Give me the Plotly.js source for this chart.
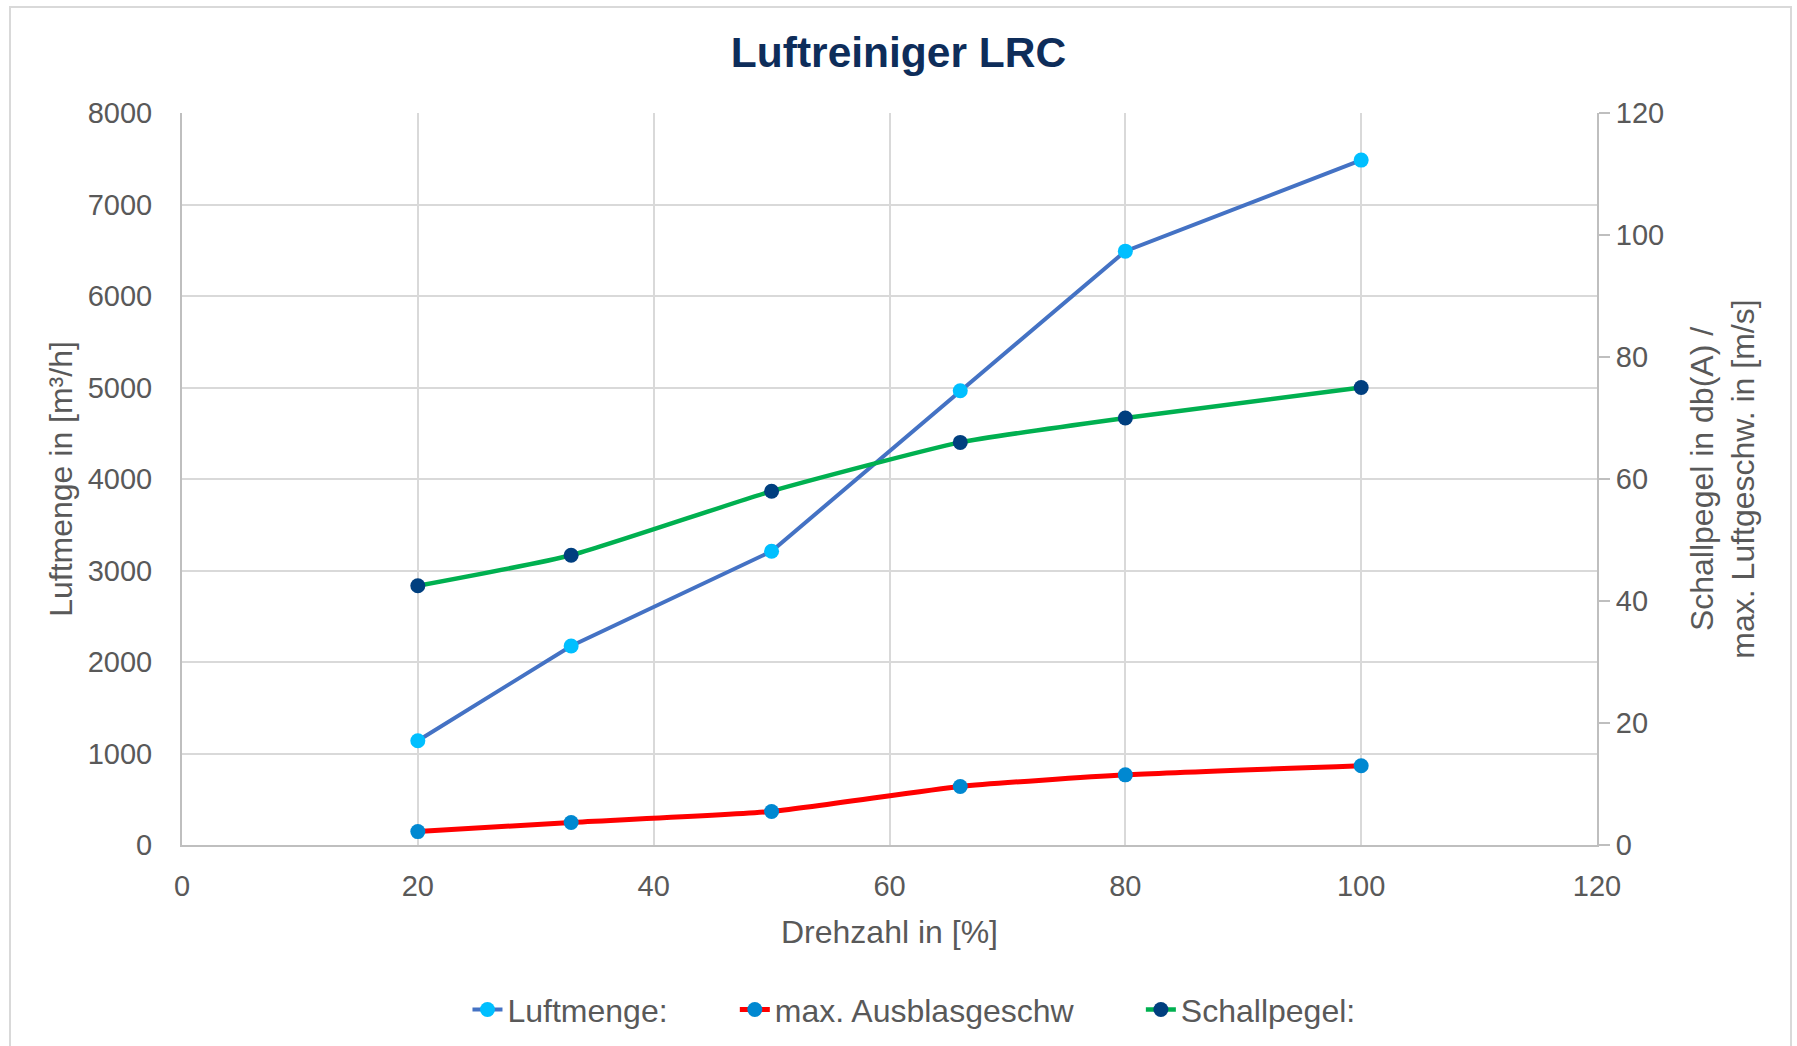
<!DOCTYPE html>
<html>
<head>
<meta charset="utf-8">
<script src="https://cdn.plot.ly/plotly-3.0.1.min.js"></script>
<style>
  html, body { margin: 0; padding: 0; background: #ffffff; }
  #wrap { position: relative; width: 1797px; height: 1046px; }
  #chart { width: 1797px; height: 1046px; }
  #frame { position: absolute; left: 9px; top: 6px; width: 1783px; height: 1050px; border: 2px solid #d9d9d9; pointer-events: none; box-sizing: border-box; }
</style>
</head>
<body>
<div id="wrap">
  <div id="chart"></div>
  <div id="frame"></div>
</div>
<script>
// Data
const drehzahl = [20, 33, 50, 66, 80, 100];
const luftmenge = [1140, 2175, 3210, 4965, 6490, 7485];
const ausblasgeschw = [2.2, 3.7, 5.5, 9.6, 11.5, 13.0];
const schallpegel = [42.5, 47.5, 58.0, 66.0, 70.0, 75.0];

const seriesNames = ["Luftmenge:", "max. Ausblasgeschw", "Schallpegel:"];
const chartTitle = "Luftreiniger LRC";
const xTitle = "Drehzahl in [%]";
const yTitle = "Luftmenge in [m³/h]";
const y2Title = "Schallpegel in db(A) /<br>max. Luftgeschw. in [m/s]";

const FONT = "Liberation Sans, Arial, sans-serif";
const GREY = "#595959";
const PAD = "\u00a0\u00a0\u00a0\u00a0\u00a0\u00a0\u00a0";

const traces = [
  {
    x: drehzahl, y: luftmenge, name: seriesNames[0] + PAD, type: "scatter", mode: "lines+markers",
    yaxis: "y",
    line: { color: "#4472C4", width: 4 },
    marker: { color: "#00BFFF", size: 15 }
  },
  {
    x: drehzahl, y: ausblasgeschw, name: seriesNames[1] + PAD, type: "scatter", mode: "lines+markers",
    yaxis: "y2",
    line: { color: "#FF0000", width: 5, shape: "spline", smoothing: 0.5 },
    marker: { color: "#0088D1", size: 15 }
  },
  {
    x: drehzahl, y: schallpegel, name: seriesNames[2], type: "scatter", mode: "lines+markers",
    yaxis: "y2",
    line: { color: "#00B050", width: 4.5, shape: "spline", smoothing: 0.5 },
    marker: { color: "#003F7F", size: 15 }
  }
];

const layout = {
  width: 1797, height: 1046,
  paper_bgcolor: "#ffffff", plot_bgcolor: "#ffffff",
  margin: { l: 182, r: 200, t: 113, b: 201, autoexpand: false },
  font: { family: FONT, color: GREY, size: 29 },
  title: {
    text: "<b>" + chartTitle + "</b>",
    font: { family: FONT, size: 42.5, color: "#0E2D5A" },
    x: 0.5, xref: "container", y: 1 - 52 / 1046, yref: "container", yanchor: "middle"
  },
  xaxis: {
    range: [0, 120], dtick: 20, tick0: 0,
    showgrid: true, gridcolor: "#d9d9d9", gridwidth: 2,
    zeroline: false, automargin: false,
    showline: true, linecolor: "#bfbfbf", linewidth: 2,
    ticks: "outside", ticklen: 14, tickcolor: "rgba(0,0,0,0)",
    tickfont: { family: FONT, size: 29, color: GREY },
    title: { text: xTitle, font: { family: FONT, size: 32, color: GREY }, standoff: 20 }
  },
  yaxis: {
    range: [0, 8000], dtick: 1000, tick0: 0,
    showgrid: true, gridcolor: "#d9d9d9", gridwidth: 2,
    zeroline: false, automargin: false,
    showline: true, linecolor: "#bfbfbf", linewidth: 2,
    ticks: "outside", ticklen: 22, tickcolor: "rgba(0,0,0,0)",
    tickfont: { family: FONT, size: 29, color: GREY },
    title: { text: yTitle, font: { family: FONT, size: 32, color: GREY }, standoff: 5 }
  },
  yaxis2: {
    overlaying: "y", side: "right",
    range: [0, 120], dtick: 20, tick0: 0,
    showgrid: false, zeroline: false, automargin: false,
    showline: true, linecolor: "#bfbfbf", linewidth: 2,
    ticks: "outside", ticklen: 11, tickcolor: "#bfbfbf", tickwidth: 2,
    tickfont: { family: FONT, size: 29, color: GREY },
    title: { text: y2Title, font: { family: FONT, size: 32, color: GREY }, standoff: 27 }
  },
  showlegend: true,
  legend: {
    orientation: "h", x: 0.5173, xanchor: "center",
    y: -0.225, yanchor: "middle",
    font: { family: FONT, size: 32, color: GREY },
    bgcolor: "rgba(0,0,0,0)"
  }
};

Plotly.newPlot("chart", traces, layout, { displayModeBar: false, staticPlot: true });
</script>
</body>
</html>
